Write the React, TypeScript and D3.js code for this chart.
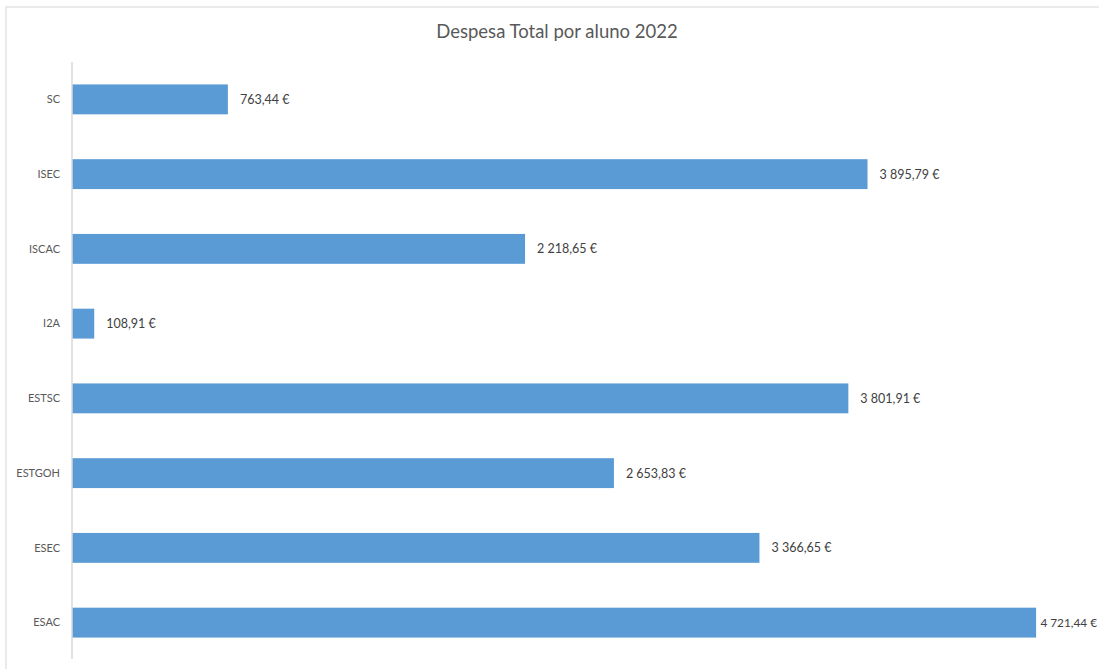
import React from "react";
import * as d3 from "d3";

const categories = ["SC", "ISEC", "ISCAC", "I2A", "ESTSC", "ESTGOH", "ESEC", "ESAC"];
const values = [763.44, 3895.79, 2218.65, 108.91, 3801.91, 2653.83, 3366.65, 4721.44];
const title = "Despesa Total por aluno 2022";
const xMax = 5000;

const W = 1099;
const H = 669;
const FONT = "Lato, 'Open Sans', sans-serif";

const locale = d3.formatLocale({
  decimal: ",",
  thousands: " ",
  grouping: [3],
  currency: ["", " €"],
});
const fmt = locale.format("$,.2f");

export default function App() {
  const x = d3.scaleLinear().domain([0, xMax]).range([72, 1093]);
  const y = d3.scaleBand<string>().domain(categories).range([62, 660]).paddingInner(0.6).paddingOuter(0.3);
  const labelW = 60;

  return (
    <svg
      width={W}
      height={H}
      style={{ position: "absolute", left: 0, top: 0, background: "#fff" }}
      fontFamily={FONT}
    >
      <rect x={6} y={7} width={W + 10} height={H + 10} fill="#fff" stroke="#e3e3e3" strokeWidth={1.5} />
      <text x={557} y={38} textAnchor="middle" fontSize={18.5} fill="#595959">
        {title}
      </text>
      {categories.map((c, i) => {
        const yy = y(c)!;
        const bw = y.bandwidth();
        const lx = x(values[i]) + 12;
        const overflow = lx + labelW > W - 2;
        return (
          <g key={c}>
            <rect x={x(0)} y={yy} width={x(values[i]) - x(0)} height={bw} fill="#5B9BD5" />
            <text
              x={overflow ? W - 2 : lx}
              y={yy + bw / 2}
              dy="0.35em"
              textAnchor={overflow ? "end" : "start"}
              fontSize={overflow ? 11.8 : 12.5}
              fill="#404040"
            >
              {fmt(values[i])}
            </text>
            <text x={60} y={yy + bw / 2} dy="0.35em" textAnchor="end" fontSize={11} fill="#595959">
              {c}
            </text>
          </g>
        );
      })}
      <line x1={x(0)} x2={x(0)} y1={62} y2={659} stroke="#d9d9d9" strokeWidth={1.5} />
    </svg>
  );
}
